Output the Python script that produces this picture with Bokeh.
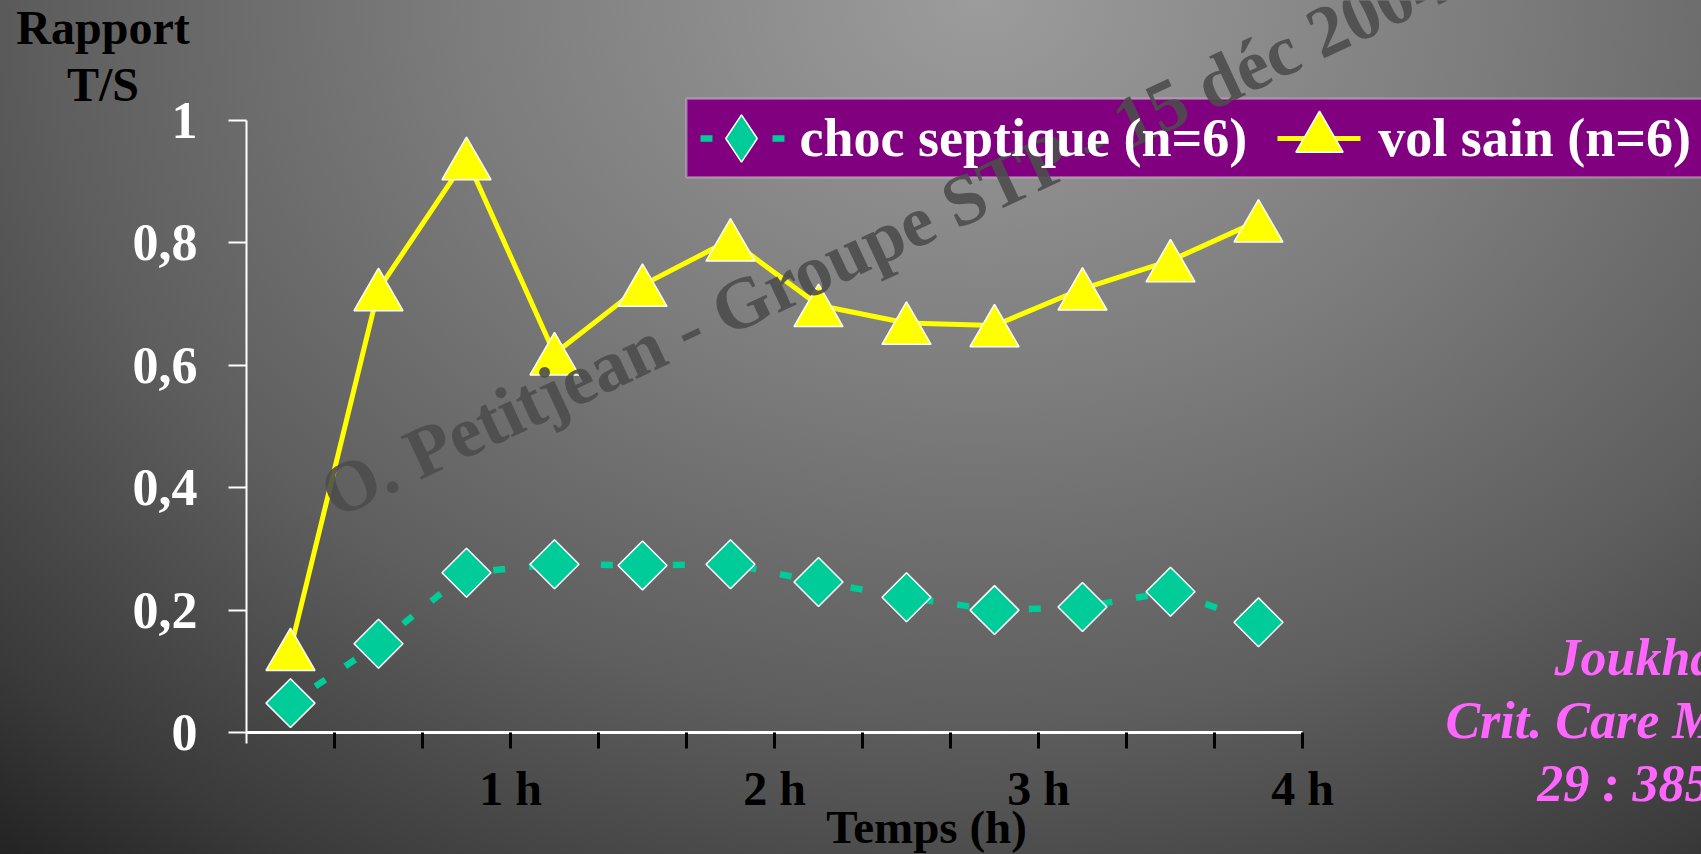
import math
from bokeh.plotting import figure
from bokeh.models import (Range1d, FixedTicker, Label, Legend, LegendItem,
                          BoxAnnotation, ColumnDataSource, LinearAxis)
from bokeh.transform import dodge
from bokeh.embed import file_html
from bokeh.resources import INLINE

# ---------------- data ----------------
time_min = [10, 30, 50, 70, 90, 110, 130, 150, 170, 190, 210, 230]
choc_septique = [0.048, 0.145, 0.261, 0.275, 0.273, 0.275, 0.246, 0.221, 0.200, 0.205, 0.230, 0.180]
vol_sain = [0.136, 0.724, 0.938, 0.619, 0.731, 0.805, 0.698, 0.669, 0.665, 0.725, 0.771, 0.836]
series_labels = ["choc septique (n=6)", "vol sain (n=6)"]
x_tick_values = [60, 120, 180, 240]
x_tick_labels = ["1 h", "2 h", "3 h", "4 h"]
x_minor_ticks = [20, 40, 80, 100, 140, 160, 200, 220]
y_tick_values = [0, 0.2, 0.4, 0.6, 0.8, 1]
y_tick_labels = ["0", "0,2", "0,4", "0,6", "0,8", "1"]
y_title = ["Rapport", "T/S"]
x_title = "Temps (h)"
citation = ["Joukhadar", "Crit. Care Med. 2001", "29 : 385-391"]
watermark = "O. Petitjean - Groupe STP - 15 déc 2004"

# ---------------- style / layout ----------------
GREEN = "#00CC99"
YELLOW = "#FFFF00"
PURPLE = "#800080"
PINK = "#FF66FF"
FONT = "Liberation Serif"

W, H = 1701, 854
X_MIN, X_MAX = 0, 240          # axis extent (minutes)
Y_MIN, Y_MAX = 0, 1            # axis extent
PX0, PX1 = 246, 1302           # page px of X_MIN / X_MAX
PY0, PY1 = 732, 120            # page px of Y_MIN / Y_MAX
xs = (X_MAX - X_MIN) / (PX1 - PX0)
ys = (Y_MAX - Y_MIN) / (PY0 - PY1)

p = figure(width=W, height=H,
           x_range=Range1d(X_MIN - PX0 * xs, X_MAX + (W - PX1) * xs),
           y_range=Range1d(Y_MIN - (H - PY0) * ys, Y_MAX + PY1 * ys),
           x_axis_location=None, y_axis_location=None,
           output_backend="svg", toolbar_location=None,
           min_border=0, min_border_left=0, min_border_right=0,
           min_border_top=0, min_border_bottom=0)
p.title.visible = False
p.background_fill_color = None
p.border_fill_color = None
p.outline_line_color = None
p.grid.visible = False
p.styles = {"background": "radial-gradient(ellipse 1300px 1000px at 980px 0px, "
                          "#9c9c9c 0%, #7c7c7c 40%, #5e5e5e 72%, #3a3a3a 100%, #1c1c1c 118%)"}

# x axis (crossing at y = 0)
xa = LinearAxis(fixed_location=0, bounds=(X_MIN, X_MAX))
xa.ticker = FixedTicker(ticks=x_tick_values, minor_ticks=x_minor_ticks)
xa.major_label_overrides = dict(zip(x_tick_values, x_tick_labels))
xa.axis_line_color = "white"
xa.axis_line_width = 3
xa.major_tick_line_color = "black"
xa.major_tick_line_width = 3
xa.major_tick_out = 16
xa.major_tick_in = 0
xa.minor_tick_line_color = "black"
xa.minor_tick_line_width = 3
xa.minor_tick_out = 16
xa.minor_tick_in = 0
xa.major_label_text_font = FONT
xa.major_label_text_font_size = "48px"
xa.major_label_text_font_style = "bold"
xa.major_label_text_color = "black"
xa.major_label_standoff = 13
p.add_layout(xa, "below")

# y axis (crossing at x = 0), line slightly extended below 0
ya = LinearAxis(fixed_location=0, bounds=(Y_MIN - 11 * ys, Y_MAX))
ya.ticker = FixedTicker(ticks=y_tick_values, minor_ticks=[])
ya.major_label_overrides = dict(zip(y_tick_values, y_tick_labels))
ya.axis_line_color = "white"
ya.axis_line_width = 2
ya.major_tick_line_color = "white"
ya.major_tick_line_width = 2
ya.major_tick_out = 18
ya.major_tick_in = 0
ya.minor_tick_line_color = None
ya.major_label_text_font = FONT
ya.major_label_text_font_size = "52px"
ya.major_label_text_font_style = "bold"
ya.major_label_text_color = "white"
ya.major_label_standoff = 31
p.add_layout(ya, "left")

# ---------------- series ----------------
src = ColumnDataSource(dict(t=time_min, c=choc_septique, v=vol_sain))

p.line("t", "c", source=src, line_color=GREEN, line_width=6.5,
       line_dash="12 24", line_dash_offset=6)
p.scatter("t", "c", source=src, marker="square", angle=math.pi / 4, size=34.6,
          fill_color=GREEN, line_color="white", line_width=1.5)
p.line("t", "v", source=src, line_color=YELLOW, line_width=5)
# triangle bbox centred on the value (Bokeh centres triangles on their centroid)
p.scatter(x="t", y=dodge("v", -7.07 * ys, range=p.y_range), source=src,
          marker="triangle", size=49, fill_color=YELLOW, line_color="white", line_width=1.5)

# legend proxies (hidden in the plot, drawn in the legend only)
lg_gl = p.line("t", "c", source=src, line_color=GREEN, line_width=6.5,
               line_dash="0 18 12 24 12 24 12 1000", visible=False)
lg_gm = p.scatter("t", "c", source=src, marker="diamond", size=49,
                  fill_color=GREEN, line_color="white", line_width=1.5, visible=False)
lg_yl = p.line("t", "v", source=src, line_color=YELLOW, line_width=5,
               line_dash="0 17 83 1000", visible=False)
lg_ym = p.scatter("t", "v", source=src, marker="triangle", size=49,
                  fill_color=YELLOW, line_color="white", line_width=1.5, visible=False)

# purple legend box
box = BoxAnnotation(left=686, right=1780, top=98.3, bottom=176.7,
                    left_units="canvas", right_units="canvas",
                    top_units="canvas", bottom_units="canvas",
                    fill_color=PURPLE, fill_alpha=1.0, line_color="white", line_width=2.5)
p.add_layout(box)

legend = Legend(items=[LegendItem(label=series_labels[0], renderers=[lg_gl, lg_gm]),
                       LegendItem(label=series_labels[1], renderers=[lg_yl, lg_ym])],
                location=(681.5, H - 198.5), orientation="horizontal",
                glyph_width=118, glyph_height=122, label_standoff=0, spacing=13,
                padding=0, margin=0, background_fill_alpha=0, border_line_color=None,
                inactive_fill_alpha=0,
                label_text_font=FONT, label_text_font_size="54px",
                label_text_font_style="bold", label_text_color="white")
p.add_layout(legend, "center")

# ---------------- texts ----------------
K = 0.34  # anchor-to-baseline offset of Label text, in em

def add_text(txt, px, base_y, size, color, style="bold", align="center", angle=0, alpha=1.0):
    d = K * size
    a = math.radians(angle)
    ax = px - d * math.sin(a)
    ay = base_y - d * math.cos(a)
    p.add_layout(Label(x=ax, y=H - ay, x_units="screen", y_units="screen",
                       text=txt, text_font=FONT, text_font_size=f"{size}px",
                       text_font_style=style, text_color=color, text_alpha=alpha,
                       text_align=align, text_baseline="alphabetic",
                       angle=angle, angle_units="deg"))

add_text(y_title[0], 102.5, 43, 48, "black")
add_text(y_title[1], 102.5, 100, 48, "black")
add_text(x_title, 926, 842, 47, "black")
for txt, by in zip(citation, [675, 738, 801]):
    add_text(txt, 1671, by, 52, PINK, style="bold italic")
add_text(watermark, 335, 519, 72.5, "#4d4d4d", align="left", angle=25.0, alpha=0.9)

open("out.html", "w").write(file_html(p, INLINE))
